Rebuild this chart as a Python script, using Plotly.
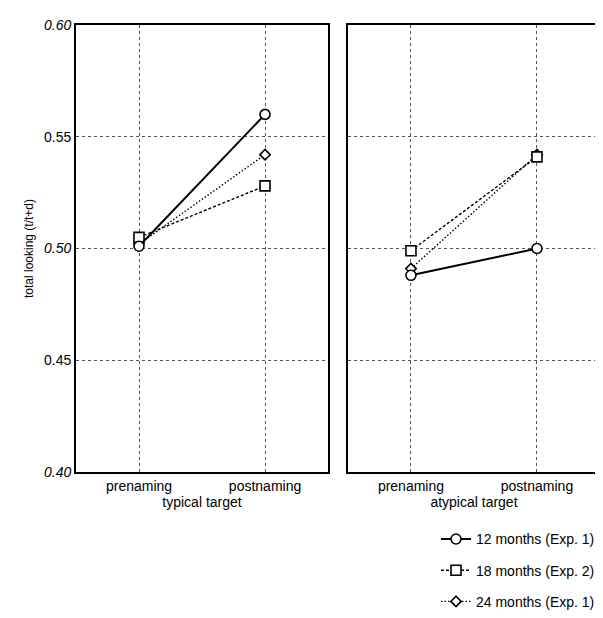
import plotly.graph_objects as go
from plotly.subplots import make_subplots

phases = ["prenaming", "postnaming"]
panels = ["typical target", "atypical target"]
series_names = ["12 months (Exp. 1)", "18 months (Exp. 2)", "24 months (Exp. 1)"]

typical_12 = [0.501, 0.560]
typical_18 = [0.505, 0.528]
typical_24 = [0.502, 0.542]

atypical_12 = [0.488, 0.500]
atypical_18 = [0.499, 0.541]
atypical_24 = [0.491, 0.542]

y_ticks = [0.40, 0.45, 0.50, 0.55, 0.60]
y_tick_labels = ["<i>0.40</i>", "0.45", "<i>0.50</i>", "0.55", "<i>0.60</i>"]

styles = [
    dict(dash="solid", width=2, symbol="circle", size=10),
    dict(dash="3px,2px", width=1.4, symbol="square", size=10),
    dict(dash="1.5px,2px", width=1.4, symbol="diamond", size=8),
]

fig = make_subplots(rows=1, cols=2, horizontal_spacing=0.038, shared_yaxes=False)

data_by_panel = [
    [typical_12, typical_18, typical_24],
    [atypical_12, atypical_18, atypical_24],
]

order = [2, 1, 0]
for col, panel_data in enumerate(data_by_panel, start=1):
    for i in order:
        st = styles[i]
        fig.add_trace(
            go.Scatter(
                x=phases,
                y=panel_data[i],
                mode="lines+markers",
                name=series_names[i],
                legendgroup=series_names[i],
                legendrank=i + 1,
                showlegend=(col == 1),
                line=dict(color="black", width=st["width"], dash=st["dash"]),
                marker=dict(symbol=st["symbol"], size=st["size"], color="white",
                            line=dict(color="black", width=1.6)),
                hoverinfo="skip",
            ),
            row=1, col=col,
        )

font_family = "Liberation Sans, Arial, sans-serif"

for col in (1, 2):
    fig.update_xaxes(
        row=1, col=col,
        type="category",
        range=[-0.5, 1.5],
        showline=True, linecolor="black", linewidth=1.8, mirror=True,
        showgrid=True, gridcolor="#555", gridwidth=1, griddash="dot",
        ticks="", tickfont=dict(size=14, color="black", family=font_family),
        title=dict(text=panels[col - 1], standoff=4,
                   font=dict(size=14, color="black", family=font_family)),
    )
    fig.update_yaxes(
        row=1, col=col,
        range=[0.40, 0.60],
        tickvals=y_ticks,
        ticktext=y_tick_labels,
        showticklabels=(col == 1),
        showline=True, linecolor="black", linewidth=1.8, mirror=True,
        showgrid=True, gridcolor="#555", gridwidth=1, griddash="dot",
        zeroline=False,
        ticks="", tickfont=dict(size=14, color="black", family=font_family),
    )

fig.update_yaxes(
    row=1, col=1,
    title=dict(text="total looking (t/t+d)", standoff=8,
               font=dict(size=12, color="black", family=font_family)),
)

fig.update_layout(
    width=603, height=618,
    margin=dict(l=68, r=9, t=11, b=139),
    paper_bgcolor="white", plot_bgcolor="white",
    font=dict(family=font_family, color="black"),
    showlegend=True,
    legend=dict(
        x=1.0, xanchor="right", y=-0.115, yanchor="top",
        font=dict(size=14, color="black", family=font_family),
        tracegroupgap=10,
        itemwidth=30,
        bgcolor="rgba(0,0,0,0)",
    ),
)

fig.write_html("out.html")
